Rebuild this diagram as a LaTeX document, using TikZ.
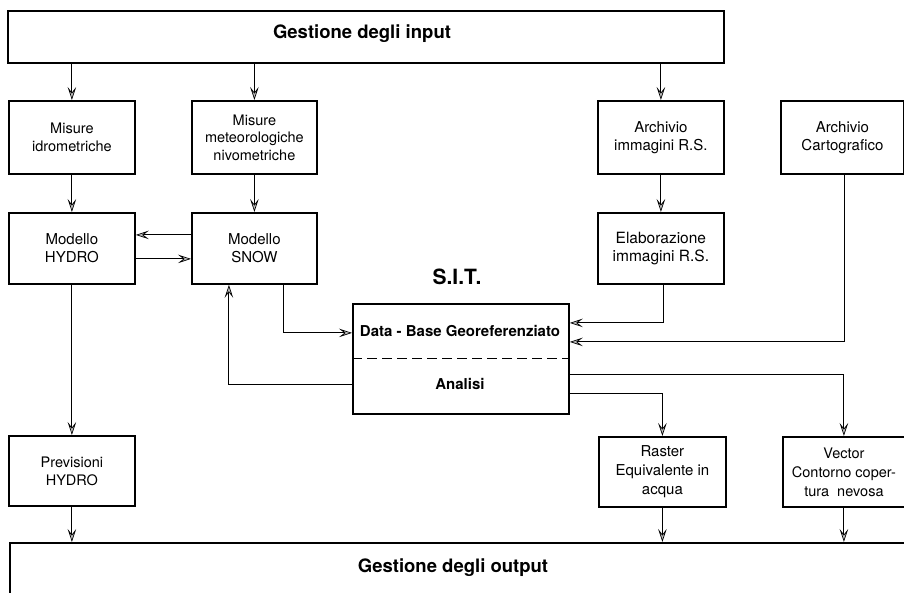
\documentclass[tikz,border=0pt]{standalone}
\usepackage{fontspec}
\setmainfont{TeX Gyre Heros}
\usetikzlibrary{arrows.meta}
\begin{document}
\begin{tikzpicture}[x=1pt,y=-1pt,
  box/.style={draw,line width=1.8pt,anchor=north west,align=center,inner sep=2pt,
    font=\fontsize{15}{18}\selectfont},
  conn/.style={line width=1.1pt},
  arr/.style={conn,-{Stealth[length=13pt,width=8.5pt,inset=5.5pt,fill=gray!50,line width=0.7pt]}},
  boldlbl/.style={font=\bfseries\fontsize{15}{18}\selectfont},
  titlelbl/.style={font=\bfseries\fontsize{18.5}{22}\selectfont}
]
\useasboundingbox (0,0) rectangle (904,593);
% boxes
\node[box,minimum width=716pt,minimum height=52pt] (in) at (7,10) {};
\node[box,minimum width=126pt,minimum height=73pt,font=\fontsize{14.5}{18}\selectfont] (mi) at (8,100) {Misure\\idrometriche};
\node[box,minimum width=125pt,minimum height=73pt,font=\fontsize{14.5}{17.5}\selectfont] (mm) at (191,100) {Misure\\meteorologiche\\nivometriche};
\node[box,minimum width=126pt,minimum height=73pt] (ar) at (597,100) {Archivio\\immagini R.S.};
\node[box,minimum width=123pt,minimum height=73pt] (ca) at (780,100) {Archivio\\Cartografico};
\node[box,minimum width=126pt,minimum height=71pt] (hy) at (8,212) {Modello\\HYDRO};
\node[box,minimum width=125pt,minimum height=71pt] (sn) at (191,212) {Modello\\SNOW};
\node[box,minimum width=126pt,minimum height=71pt,font=\fontsize{15.5}{18}\selectfont] (el) at (597,212) {Elaborazione\\immagini R.S.};
\node[box,minimum width=216pt,minimum height=110pt] (sit) at (352,303) {};
\node[box,minimum width=126pt,minimum height=70pt,font=\fontsize{14.5}{18}\selectfont] (pr) at (8,435) {Previsioni\\HYDRO};
\node[box,minimum width=127pt,minimum height=70pt,font=\fontsize{15}{19}\selectfont] (ra) at (598,436) {Raster\\Equivalente in\\acqua};
\node[box,minimum width=122pt,minimum height=70pt,font=\fontsize{14.5}{19}\selectfont] (ve) at (782,436) {Vector\\Contorno coper-\\tura\ \ nevosa};
\node[box,minimum width=1000pt,minimum height=100pt] (out) at (9,542) {};
% texts
\node[titlelbl] (inlbl) at (362,34) {Gestione degli input};
\node[titlelbl] (outlbl) at (453,568) {Gestione degli output};
\node[font=\fontsize{21}{24}\selectfont\bfseries] (sitlbl) at (457,277) {S.I.T.};
\node[boldlbl] (db) at (460,331) {Data - Base Georeferenziato};
\node[boldlbl] (an) at (460,384) {Analisi};
\draw[conn,dash pattern=on 10pt off 5pt] (sit.west) -- (sit.east);
% connectors
\draw[arr] (in.south -| mi.north) -- (mi.north);
\draw[arr] (in.south -| mm.north) -- (mm.north);
\draw[arr] (in.south -| ar.north) -- (ar.north);
\draw[arr] (mi) -- (hy);
\draw[arr] (mm) -- (sn);
\draw[arr] (ar) -- (el);
\draw[arr] ([yshift=13.5pt]sn.west) -- ([yshift=13.5pt]hy.east);
\draw[arr] ([yshift=-10.5pt]hy.east) -- ([yshift=-10.5pt]sn.west);
\draw[arr] ([xshift=29.5pt]sn.south) |- ([yshift=26pt]sit.west);
\draw[arr] ([xshift=3pt]el.south) |- ([yshift=36pt]sit.east);
\draw[arr] ([xshift=2.5pt]ca.south) |- ([yshift=17pt]sit.east);
\draw[arr] ([yshift=-26pt]sit.west) -| ([xshift=-25.5pt]sn.south);
\draw[arr] ([yshift=-16pt]sit.east) -| (ve.north);
\draw[arr] ([yshift=-35pt]sit.east) -| (ra.north);
\draw[arr] (hy) -- (pr);
\draw[arr] (pr.south) -- (pr.south |- out.north);
\draw[arr] (ra.south) -- (ra.south |- out.north);
\draw[arr] (ve.south) -- (ve.south |- out.north);
\end{tikzpicture}
\end{document}
